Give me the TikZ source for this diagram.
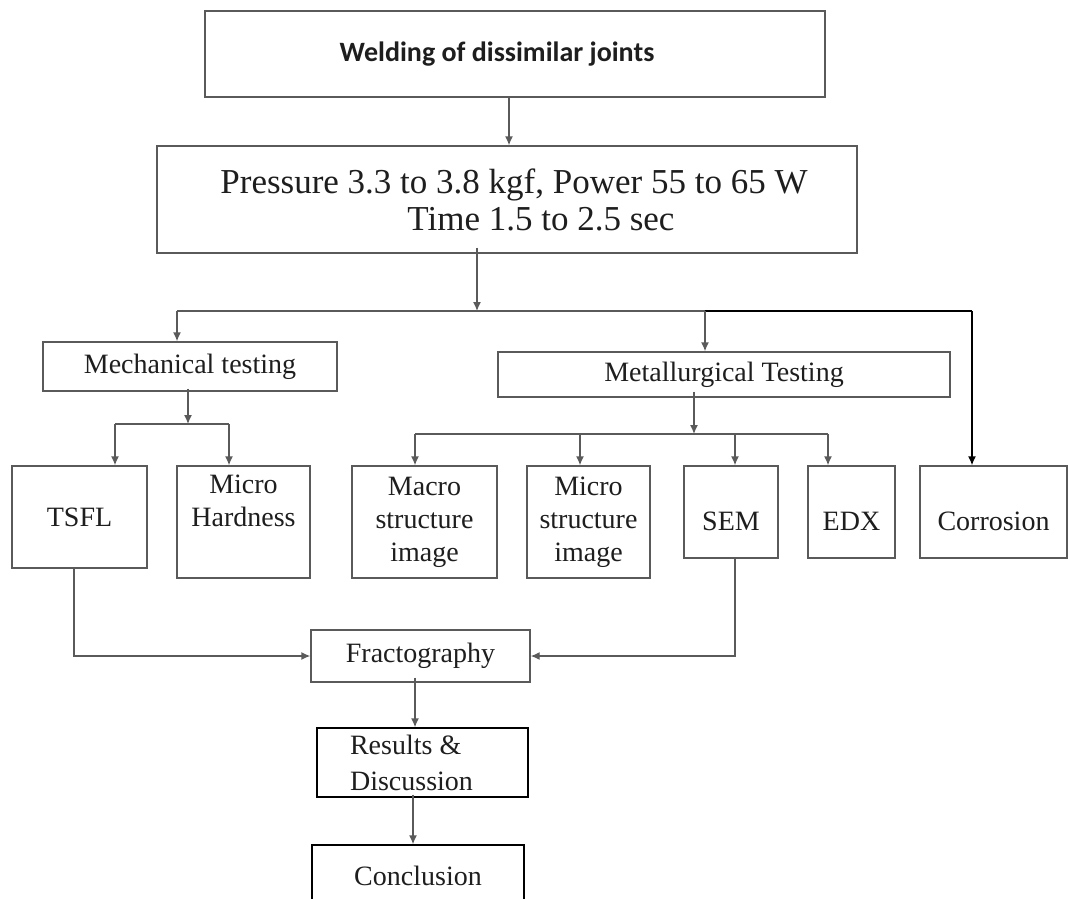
\documentclass[tikz,border=0pt]{standalone}
\usepackage{fontspec}
\setmainfont{Liberation Serif}
\newfontfamily\calib{Carlito}
\usetikzlibrary{arrows.meta}
\definecolor{lncol}{HTML}{5A5A5A}
\definecolor{txcol}{HTML}{1E1E1E}
\begin{document}
\begin{tikzpicture}[x=1pt,y=-1pt,
  box/.style={draw=lncol, line width=1.4pt, text=txcol, inner sep=0pt, align=center, font=\fontsize{28}{33}\selectfont},
  bbox/.style={box, draw=black},
  lowtext/.style={text height=37pt, text depth=0pt},
  arr/.style={draw=lncol, line width=1.4pt, -{Latex[length=9pt,width=8pt]}},
  conn/.style={draw=lncol, line width=1.4pt}]
\useasboundingbox (0,0) rectangle (1068,899);
\fill[white] (0,0) rectangle (1068,899);

\node[box, minimum width=620, minimum height=86, font=\calib\bfseries\fontsize{28}{32}\selectfont] (weld) at (515,54) {Welding of dissimilar joints\hspace*{36pt}};
\node[box, minimum width=700, minimum height=107, font=\fontsize{35}{37}\selectfont] (param) at (507,199.5) {\hspace*{14pt}Pressure 3.3 to 3.8 kgf, Power 55 to 65 W\\\hspace*{68pt}Time 1.5 to 2.5 sec};

\node[box, minimum width=294, minimum height=49] (mech) at (190,366.5) {Mechanical testing};
\node[box, minimum width=452, minimum height=45] (met) at (724,374.5) {Metallurgical Testing};

\node[box, minimum width=135, minimum height=102] (tsfl) at (79.5,517) {TSFL};
\node[box, minimum width=133, minimum height=112] (mh) at (243.5,522) {Micro\\Hardness\\\strut};
\node[box, minimum width=145, minimum height=112] (macro) at (424.5,522) {Macro\\structure\\image};
\node[box, minimum width=123, minimum height=112] (micro) at (588.5,522) {Micro\\structure\\image};
\node[box, lowtext, minimum width=94, minimum height=92] (sem) at (731,512) {SEM};
\node[box, lowtext, minimum width=87, minimum height=92] (edx) at (851.5,512) {EDX};
\node[box, lowtext, minimum width=147, minimum height=92] (corr) at (993.5,512) {Corrosion};

\node[box, minimum width=219, minimum height=52] (frac) at (420.5,656) {Fractography};
\node[bbox, minimum width=211, minimum height=69, align=left, font=\fontsize{28}{36}\selectfont] (res) at (422.5,762.5) {Results \&\\Discussion\hspace*{22pt}};
\node[bbox, minimum width=212, minimum height=62] (conc) at (418,876) {Conclusion};

% connectors
\coordinate (hub) at (477,311);
\coordinate (hL) at (177,311);
\coordinate (hM) at (705,311);
\coordinate (hR) at (972,311);
\draw[arr] ([xshift=-6pt]weld.south) -- ([xshift=2pt]param.north);
\draw[arr] ([xshift=-30pt,yshift=6pt]param.south) -- (hub);
\draw[conn] (hL) -- (hM);
\draw[line width=1.4pt, black] (hM) -- (hR);
\draw[arr] (hL) -- (hL |- mech.north);
\draw[arr] (hM) -- (hM |- met.north);
\draw[arr, draw=black] (hR) -- (hR |- corr.north);

\coordinate (mj) at (188,424);
\coordinate (mj1) at (115,424);
\coordinate (mj2) at (229,424);
\draw[arr] ([yshift=3pt]mech.south -| mj) -- (mj);
\draw[conn] (mj1) -- (mj2);
\draw[arr] (mj1) -- (mj1 |- tsfl.north);
\draw[arr] (mj2) -- (mj2 |- mh.north);

\coordinate (tj) at (694,434);
\coordinate (tj1) at (415,434);
\coordinate (tj2) at (580,434);
\coordinate (tj3) at (735,434);
\coordinate (tj4) at (828,434);
\draw[arr] ([yshift=6pt]met.south -| tj) -- (tj);
\draw[conn] (tj1) -- (tj4);
\draw[arr] (tj1) -- (tj1 |- macro.north);
\draw[arr] (tj2) -- (tj2 |- micro.north);
\draw[arr] (tj3) -- (tj3 |- sem.north);
\draw[arr] (tj4) -- (tj4 |- edx.north);

\draw[arr] ([xshift=-5.5pt]tsfl.south) |- (frac.west);
\draw[arr] ([xshift=4pt]sem.south) |- (frac.east);
\draw[arr] ([xshift=-5.5pt,yshift=5pt]frac.south) -- ([xshift=-7.5pt]res.north);
\draw[arr] ([xshift=-9.5pt,yshift=3pt]res.south) -- ([xshift=-5pt]conc.north);
\end{tikzpicture}
\end{document}
